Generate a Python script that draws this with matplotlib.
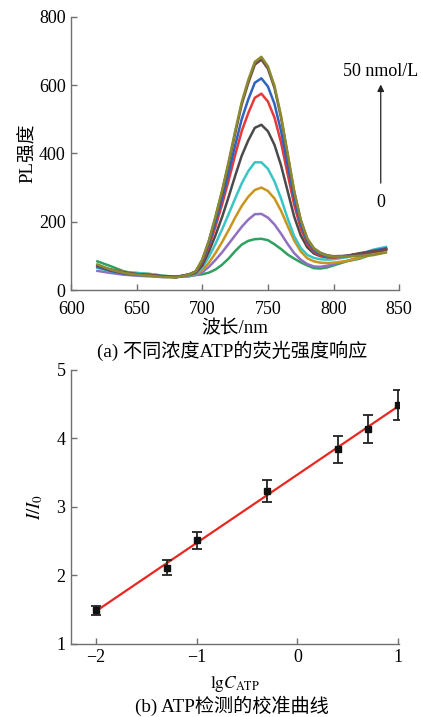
import numpy as np
import matplotlib
matplotlib.use('Agg')
import matplotlib.pyplot as plt

plt.rcParams['font.family'] = ['Liberation Serif', 'Noto Sans CJK SC']
plt.rcParams['mathtext.fontset'] = 'stix'

# ---------------- data: (a) PL spectra ----------------
wl = [620, 630, 640, 650, 660, 670, 680, 690, 695, 700, 705, 710, 715, 720, 725, 730, 735,
      740, 745, 750, 755, 760, 765, 770, 775, 780, 785, 790, 795, 800, 810, 820, 830, 840]

pl_green = [84, 70, 55, 47, 42, 40, 40, 42, 44, 46, 51, 60, 74, 92, 114, 133, 144,
            149, 150, 146, 134, 120, 104, 92, 81, 72, 64, 63, 66, 72, 84, 92, 105, 122]
pl_purple = [56, 50, 45, 42, 40, 38, 38, 40, 44, 52, 68, 88, 110, 135, 160, 185, 206,
             222, 223, 212, 192, 165, 135, 108, 89, 76, 69, 68, 71, 76, 85, 95, 108, 120]
pl_gold = [68, 60, 53, 50, 47, 42, 39, 42, 46, 58, 80, 108, 140, 175, 212, 246, 273,
           293, 300, 290, 268, 232, 188, 145, 113, 93, 84, 80, 79, 80, 85, 95, 105, 118]
pl_cyan = [65, 55, 50, 50, 47, 42, 38, 42, 48, 66, 97, 135, 177, 222, 268, 312, 348,
           374, 374, 355, 318, 268, 210, 158, 123, 103, 94, 90, 89, 90, 96, 105, 118, 126]
pl_gray = [72, 60, 52, 47, 44, 40, 38, 44, 50, 72, 113, 160, 213, 272, 334, 393, 438,
           475, 484, 465, 425, 365, 290, 215, 160, 125, 107, 99, 96, 96, 100, 106, 112, 118]
pl_red = [70, 57, 50, 46, 44, 40, 38, 45, 52, 80, 128, 185, 250, 320, 395, 465, 518,
          563, 575, 552, 505, 432, 340, 250, 180, 135, 112, 101, 97, 95, 98, 105, 113, 120]
pl_blue = [68, 56, 48, 45, 43, 40, 38, 46, 53, 84, 135, 198, 266, 342, 423, 500, 558,
           607, 620, 596, 545, 465, 366, 268, 192, 142, 116, 104, 99, 97, 100, 106, 115, 122]
pl_maroon = [72, 58, 50, 46, 44, 40, 38, 46, 55, 88, 143, 212, 287, 370, 458, 543, 606,
             660, 675, 648, 592, 505, 396, 288, 205, 150, 122, 109, 102, 99, 100, 108, 113, 120]
pl_olive = [75, 60, 50, 45, 42, 38, 37, 45, 55, 90, 145, 215, 290, 375, 465, 550, 615,
            668, 683, 655, 598, 510, 400, 290, 205, 150, 122, 108, 101, 98, 98, 100, 102, 110]

spectra = [pl_green, pl_purple, pl_gold, pl_cyan, pl_gray, pl_red, pl_blue, pl_maroon, pl_olive]
colors = ['#30a060', '#9070c0', '#c8961e', '#3cc4c4', '#4a4a4a',
          '#e8383a', '#2f63c0', '#6e4848', '#8a8a30']

# ---------------- data: (b) calibration ----------------
lgC = [-2, -1.3, -1, -0.3, 0.4, 0.7, 1]
ratio = [1.49, 2.11, 2.51, 3.23, 3.84, 4.14, 4.49]
ratio_err = [0.068, 0.11, 0.126, 0.165, 0.195, 0.205, 0.224]

fig = plt.figure(figsize=(4.21, 7.17), dpi=100)
ax1 = fig.add_axes([0.169, 0.5955, 0.779, 0.381])
ax2 = fig.add_axes([0.169, 0.102, 0.779, 0.382])

spine_col = '#707070'
for ax in (ax1, ax2):
    for s in ('top', 'right'):
        ax.spines[s].set_visible(False)
    for s in ('left', 'bottom'):
        ax.spines[s].set_color(spine_col)
        ax.spines[s].set_linewidth(1.0)
    ax.tick_params(direction='in', length=4, width=1.0, color=spine_col,
                   labelsize=13, pad=4)
ax1.tick_params(axis='x', pad=8)

# (a)
for y, c in zip(spectra, colors):
    ax1.plot(wl, y, color=c, lw=1.8, solid_joinstyle='round')
ax1.set_xlim(600, 850)
ax1.set_ylim(0, 800)
ax1.set_xticks([600, 650, 700, 750, 800, 850])
ax1.set_yticks([0, 200, 400, 600, 800])
ax1.set_xlabel('波长/nm', fontsize=13.5, labelpad=1)
ax1.set_ylabel('PL强度', fontsize=13.5, labelpad=1)
ax1.annotate('', xy=(836, 610), xytext=(836, 305),
             arrowprops=dict(arrowstyle='-|>', color='#222222', lw=0.9,
                             mutation_scale=10))
ax1.text(836, 640, '50 nmol/L', ha='center', va='center', fontsize=13)
ax1.text(836, 255, '0', ha='center', va='center', fontsize=13)
fig.text(0.551, 0.511, '(a) 不同浓度ATP的荧光强度响应', ha='center', va='center',
         fontsize=13.8)

# (b)
k, b = np.polyfit(lgC, ratio, 1)
xf = np.array([lgC[0], lgC[-1]])
ax2.plot(xf, k * xf + b, color='#e82820', lw=1.6, zorder=2)
ax2.errorbar(lgC, ratio, yerr=ratio_err, fmt='s', color='#111111', ms=4.5,
             ecolor='#222222', elinewidth=1.3, capsize=3.5, capthick=1.3, zorder=3)
ax2.set_xlim(-2.247, 1.01)
ax2.set_ylim(1, 5)
ax2.set_xticks([-2, -1, 0, 1])
ax2.set_xticklabels(['\u22122', '\u22121', '0', '1'])
ax2.set_yticks([1, 2, 3, 4, 5])
ax2.set_xlabel(r'$\mathrm{lg}C_{\mathrm{ATP}}$', fontsize=12.5, labelpad=5)
ax2.set_ylabel(r'$I/I_0$', fontsize=13.5, labelpad=8)
fig.text(0.551, 0.015, '(b) ATP检测的校准曲线', ha='center', va='center',
         fontsize=13.8)

fig.savefig('out.png', dpi=100)
